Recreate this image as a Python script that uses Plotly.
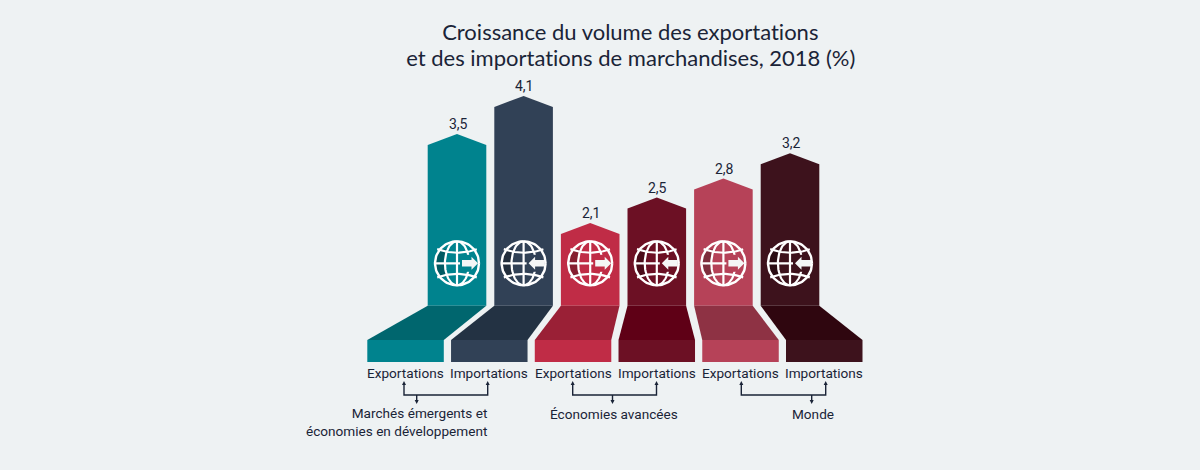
import numpy as np
import plotly.graph_objects as go

# ---- data ----
flows = ["Exportations", "Importations"] * 3
values = [3.5, 4.1, 2.1, 2.5, 2.8, 3.2]
value_labels = ["3,5", "4,1", "2,1", "2,5", "2,8", "3,2"]
groups = ["Marchés émergents et<br>économies en développement", "Économies avancées", "Monde"]
title_lines = ["Croissance du volume des exportations", "et des importations de marchandises, 2018 (%)"]
col_colors = ["#00838e", "#314156", "#c02c46", "#6c1024", "#b64258", "#3d121c"]
floor_colors = ["#00666e", "#233243", "#9a2036", "#5f0016", "#8e3244", "#2f060f"]
front_colors = ["#00838e", "#314156", "#c02c46", "#6c1024", "#b64258", "#3d121c"]

BG = "#eef2f3"
INK = "#1a2437"
LABEL_SIZE = 13.6

# ---- scale: pixel row -> value axis ----
PX_PER_UNIT = 63.5
ZERO_ROW = 356.35
def r(p):
    return (ZERO_ROW - np.asarray(p, dtype=float)) / PX_PER_UNIT

fig = go.Figure()

def poly(xs, rows, color):
    fig.add_trace(go.Scatter(x=xs, y=r(rows), mode="lines", fill="toself", fillcolor=color,
                             line=dict(color=color, width=0), hoverinfo="skip", showlegend=False))

def line(xs, rows, color="#ffffff", width=2.2):
    fig.add_trace(go.Scatter(x=xs, y=r(rows), mode="lines", line=dict(color=color, width=width),
                             hoverinfo="skip", showlegend=False))

def globe(cx, cy, R, col, outgoing):
    # shaded outer-left cells
    a = np.linspace(np.pi * 0.78, np.pi * 1.22, 24)
    b = a[::-1]
    poly(list(cx + R * np.cos(a)) + list(cx + 0.55 * R * np.cos(b)),
         list(cy + R * np.sin(a)) + list(cy + R * np.sin(b) * 1.0),
         "rgba(0,0,0,0.3)")
    # meridians
    line([cx, cx], [cy - R, cy + R])
    tm = np.linspace(-np.pi / 2, np.pi / 2, 40)
    line(cx + R * 0.55 * np.cos(tm), cy + R * np.sin(tm))
    line(cx - R * 0.55 * np.cos(tm), cy + R * np.sin(tm))
    # parallels bulging toward the equator
    line([cx - R, cx + R], [cy, cy])
    xp = np.linspace(-R * 0.9, R * 0.9, 30)
    line(cx + xp, cy - R * 0.48 - (xp / R) ** 2 * R * 0.2)
    line(cx + xp, cy + R * 0.48 + (xp / R) ** 2 * R * 0.2)
    # arrow on a masked band
    if outgoing:
        x0, x1, x2 = cx + 5, cx + 14.5, cx + 21
    else:
        x0, x1, x2 = cx + 21, cx + 11.5, cx + 5
    poly([cx + 3, cx + 21, cx + 21, cx + 3], [cy - 8.5, cy - 8.5, cy + 8.5, cy + 8.5], col)
    poly([x0, x1, x1, x2, x1, x1, x0], [cy - 3.2, cy - 3.2, cy - 6.5, cy, cy + 6.5, cy + 3.2, cy + 3.2], "#f4f6f6")
    # rim on top of the mask
    t = np.linspace(0, 2 * np.pi, 90)
    line(cx + R * np.cos(t), cy + R * np.sin(t), "#ffffff", 2.4)

for i, v in enumerate(values):
    cl = 427.7 + 66.6 * i
    cr = cl + 58.6
    cc = (cl + cr) / 2
    fl = 367.3 + 83.74 * i
    fr = fl + 76.5
    apex = ZERO_ROW - v * PX_PER_UNIT
    shoulder = r(apex + 11)
    # column body: apex comes from the value
    fig.add_trace(go.Scatter(x=[cl, cl, cc, cr, cr, cl], y=[r(305.7), shoulder, v, shoulder, r(305.7), r(305.7)],
                             mode="lines", fill="toself", fillcolor=col_colors[i], line=dict(width=0),
                             hoverinfo="skip", showlegend=False))
    poly([cl, cr, fr, fl, cl], [305.7, 305.7, 340, 340, 305.7], floor_colors[i])
    poly([fl, fr, fr, fl, fl], [340, 340, 362, 362, 340], front_colors[i])
    globe(cc, 263.3, 22, col_colors[i], flows[i] == "Exportations")
    # value label anchored on the value
    fig.add_annotation(x=cc + 1, y=v, text=value_labels[i], showarrow=False, yanchor="middle", yshift=10,
                       font=dict(family="Roboto", size=14, color=INK))
    # flow label
    fig.add_annotation(x=fl + 38.25, y=float(r(373)), text=flows[i], showarrow=False,
                       font=dict(family="Roboto", size=LABEL_SIZE, color=INK), xanchor="center", yanchor="middle")

# brackets
brackets = [(404, 487.7, 416.7), (572.7, 656.5, 612.5), (741.3, 825.7, 811.7)]
for a, b, s in brackets:
    line([a, a, b, b], [384, 395, 395, 384], INK, 1.4)
    line([s, s], [395, 402], INK, 1.4)
    for xx in (a, b):
        poly([xx - 2, xx + 2, xx], [385, 385, 381], INK)
    poly([s - 2, s + 2, s], [400, 400, 404], INK)

# group labels
fig.add_annotation(x=489, y=float(r(422)), text=groups[0], showarrow=False, align="right",
                   font=dict(family="Roboto", size=LABEL_SIZE, color=INK), xanchor="right", yanchor="middle")
fig.add_annotation(x=614, y=float(r(414)), text=groups[1], showarrow=False,
                   font=dict(family="Roboto", size=LABEL_SIZE, color=INK), xanchor="center", yanchor="middle")
fig.add_annotation(x=813, y=float(r(414)), text=groups[2], showarrow=False,
                   font=dict(family="Roboto", size=LABEL_SIZE, color=INK), xanchor="center", yanchor="middle")

# title
for ln, row in zip(title_lines, (31.2, 57.2)):
    fig.add_annotation(x=630.5, y=float(r(row)), text=ln, showarrow=False,
                       font=dict(family="Lato", size=22, color=INK), xanchor="center", yanchor="middle")

fig.update_layout(width=1200, height=470, margin=dict(l=0, r=0, t=0, b=0),
                  paper_bgcolor=BG, plot_bgcolor=BG, showlegend=False,
                  xaxis=dict(visible=False, range=[0, 1200], fixedrange=True),
                  yaxis=dict(visible=False, range=[float(r(470)), float(r(0))], fixedrange=True))
fig.write_html("out.html",
               post_script="document.body.style.margin='0';document.body.style.background='" + BG + "';"
                           "document.querySelectorAll('text').forEach(function(e){e.style.fontVariantLigatures='none';});",
               config={"displayModeBar": False})
